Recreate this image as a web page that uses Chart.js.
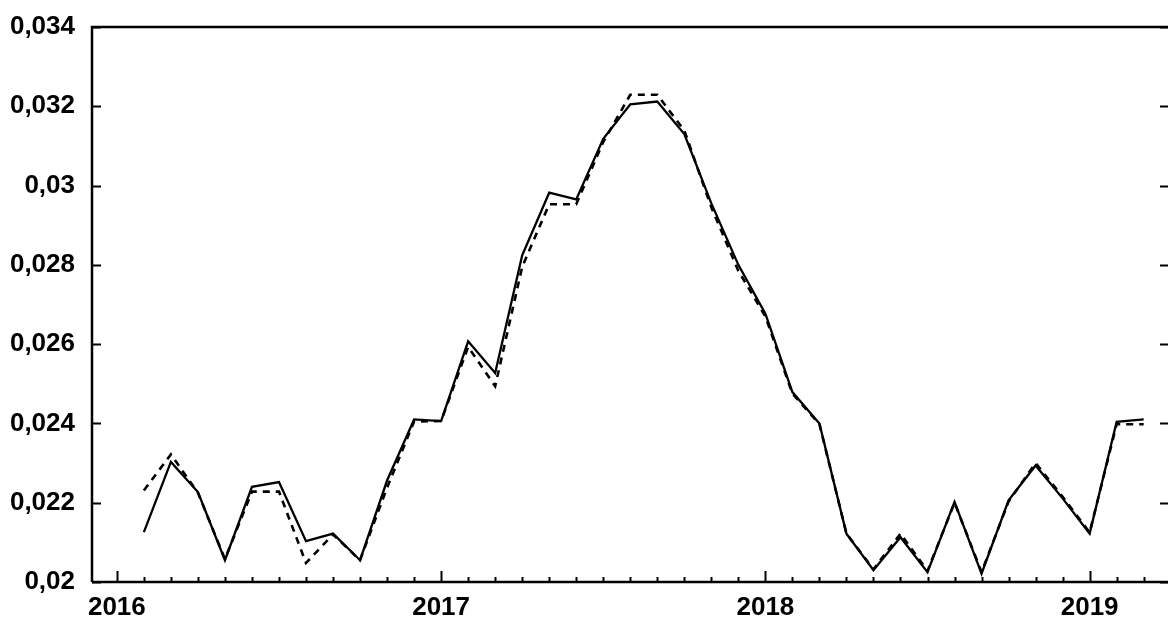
<!DOCTYPE html>
<html lang="en">
<head>
    <meta charset="UTF-8">
    <title>Monthly series 2016-2019</title>
    <script src="https://cdn.jsdelivr.net/npm/chart.js"></script>
    <style>
        html, body { margin: 0; padding: 0; background: #fff; overflow: hidden; }
        #wrap { width: 1168px; height: 621px; }
    </style>
</head>
<body>
    <div id="wrap"><canvas id="chart"></canvas></div>

    <script>
        // months counted from Jan 2016 = 0 (Feb 2016 .. Mar 2019)
        const months = [1, 2, 3, 4, 5, 6, 7, 8, 9, 10, 11, 12, 13, 14, 15, 16, 17, 18, 19,
            20, 21, 22, 23, 24, 25, 26, 27, 28, 29, 30, 31, 32, 33, 34, 35, 36, 37, 38];
        const yearTicks = [0, 12, 24, 36];
        const yearLabels = ['2016', '2017', '2018', '2019'];

        const solidSeries = [0.02126, 0.02303, 0.02227, 0.02055, 0.02240, 0.02252, 0.02103, 0.02122,
            0.02055, 0.02256, 0.02410, 0.02406, 0.02607, 0.02527, 0.02824, 0.02982, 0.02965, 0.03118,
            0.03205, 0.03212, 0.03130, 0.02955, 0.02800, 0.02677, 0.02479, 0.02400, 0.02122, 0.02030,
            0.02113, 0.02025, 0.02202, 0.02021, 0.02206, 0.02294, 0.02211, 0.02122, 0.02404, 0.02410];
        const dashedSeries = [0.02231, 0.02322, 0.02225, 0.02058, 0.02228, 0.02228, 0.02048, 0.02120,
            0.02055, 0.02238, 0.02405, 0.02406, 0.02593, 0.02494, 0.02795, 0.02953, 0.02953, 0.03110,
            0.03229, 0.03229, 0.03139, 0.02945, 0.02785, 0.02670, 0.02475, 0.02398, 0.02122, 0.02032,
            0.02122, 0.02028, 0.02200, 0.02025, 0.02203, 0.02300, 0.02215, 0.02125, 0.02398, 0.02398];

        const font = { family: '"Liberation Sans", Arial, sans-serif', size: 26, weight: 'bold' };

        // box and inward tick marks, placed with the chart's own scales
        const frame = {
            id: 'frame',
            afterDatasetsDraw(chart) {
                const { ctx, chartArea: a, scales: { x, y } } = chart;
                ctx.save();
                ctx.strokeStyle = '#000';
                ctx.lineWidth = 2.5;
                ctx.beginPath();
                ctx.moveTo(a.left, a.bottom);
                ctx.lineTo(a.left, a.top);
                ctx.lineTo(a.right, a.top);
                ctx.moveTo(a.left, a.bottom);
                ctx.lineTo(a.right, a.bottom);
                ctx.stroke();

                ctx.lineWidth = 2;
                ctx.beginPath();
                for (let m = Math.ceil(x.min); m <= Math.floor(x.max); m++) {
                    const px = Math.round(x.getPixelForValue(m)) + 0.5;
                    const len = yearTicks.includes(m) ? 11 : 5;
                    ctx.moveTo(px, a.bottom);
                    ctx.lineTo(px, a.bottom - len);
                }
                y.ticks.forEach(t => {
                    const py = Math.round(y.getPixelForValue(t.value)) + 0.5;
                    ctx.moveTo(a.left, py);
                    ctx.lineTo(a.left + 9, py);
                    ctx.moveTo(a.right, py);
                    ctx.lineTo(a.right - 8, py);
                });
                ctx.stroke();
                ctx.restore();
            }
        };

        new Chart(document.getElementById('chart'), {
            type: 'line',
            data: {
                datasets: [
                    {
                        label: 'solid',
                        data: months.map((m, i) => ({ x: m, y: solidSeries[i] })),
                        borderColor: '#000',
                        borderWidth: 2.3,
                        pointRadius: 0,
                        tension: 0
                    },
                    {
                        label: 'dashed',
                        data: months.map((m, i) => ({ x: m, y: dashedSeries[i] })),
                        borderColor: '#000',
                        borderWidth: 2.6,
                        borderDash: [7, 6],
                        pointRadius: 0,
                        tension: 0
                    }
                ]
            },
            options: {
                responsive: true,
                maintainAspectRatio: false,
                animation: false,
                layout: { padding: { top: 27, right: 0, left: 0, bottom: 0 } },
                plugins: { legend: { display: false }, tooltip: { enabled: false } },
                scales: {
                    x: {
                        type: 'linear',
                        min: -0.92,
                        max: 38.9,
                        afterFit: s => { s.height = 39; s.paddingLeft = 0; s.paddingRight = 0; },
                        afterBuildTicks: s => { s.ticks = yearTicks.map(v => ({ value: v })); },
                        grid: { display: false, drawTicks: false },
                        border: { display: false },
                        ticks: {
                            autoSkip: false,
                            maxRotation: 0,
                            padding: 10,
                            color: '#000',
                            font: font,
                            callback: v => yearLabels[yearTicks.indexOf(v)] ?? ''
                        }
                    },
                    y: {
                        min: 0.02,
                        max: 0.034,
                        afterFit: s => { s.width = 92; s.paddingTop = 0; s.paddingBottom = 0; },
                        grid: { display: false, drawTicks: false },
                        border: { display: false },
                        ticks: {
                            stepSize: 0.002,
                            padding: 17,
                            color: '#000',
                            font: font,
                            callback: v => String(Number(v.toFixed(3))).replace('.', ',')
                        }
                    }
                }
            },
            plugins: [frame]
        });
    </script>
</body>
</html>
